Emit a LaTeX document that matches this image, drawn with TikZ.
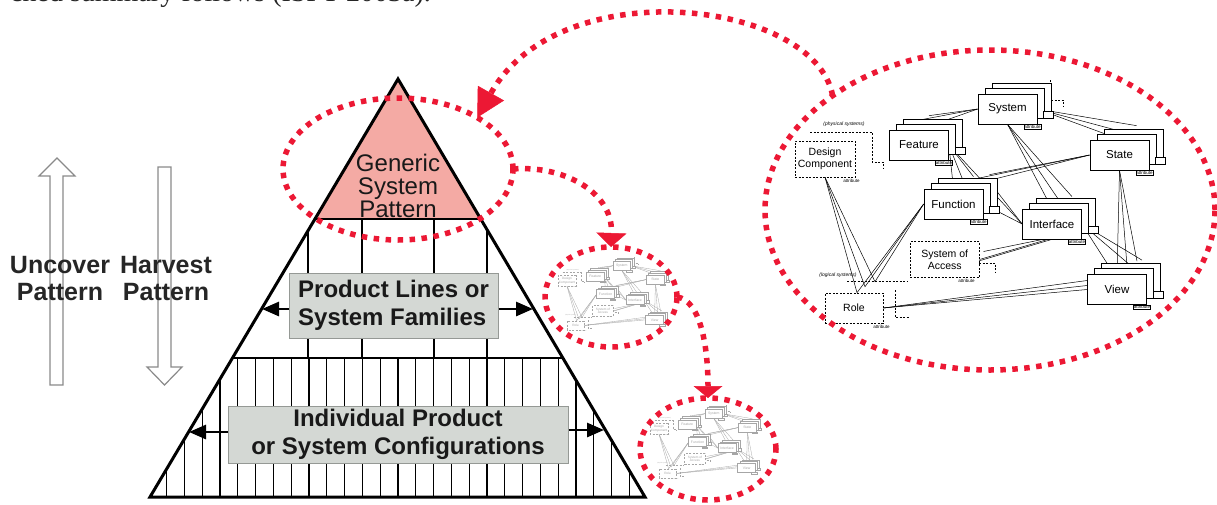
\documentclass[tikz,border=0pt]{standalone}
\usepackage{fontspec}
\setmainfont{Liberation Sans}
\newfontfamily\hdrfont{Liberation Serif}
\usetikzlibrary{arrows.meta,shapes.geometric,calc}
\pgfdeclarelayer{edges}
\pgfsetlayers{edges,main}
\definecolor{dotred}{HTML}{EC1834}
\definecolor{pinkfill}{HTML}{F4AAA4}
\definecolor{boxgray}{HTML}{D4D8D4}
\definecolor{boxedge}{HTML}{959995}
\definecolor{hollowedge}{HTML}{8A8A8A}
\newcommand\ncol{black}
\newcommand\nlw{0.5pt}
\tikzset{
  hollow/.style={draw=hollowedge, fill=white, line width=1.2pt, line join=miter},
  sidetxt/.style={font=\bfseries\fontsize{25}{27}\selectfont, text=black!85, align=center, inner sep=0pt, anchor=base},
  pyr/.style={line width=3pt, line join=miter},
  vline/.style={line width=1.3pt},
  hline/.style={line width=1.8pt},
  graybox/.style={draw=boxedge, fill=boxgray, line width=1pt, inner sep=0pt, text=black!90, font=\bfseries\fontsize{24}{28}\selectfont},
  gentxt/.style={font=\fontsize{24}{23}\selectfont, text=black!90, align=center, inner sep=0pt, anchor=base},
  blkarrow/.style={line width=2.8pt, -{Triangle[length=17pt,width=14pt]}},
  redell/.style={ellipse, draw=dotred, line width=5.5pt, dash pattern=on 5.5pt off 6.5pt, inner sep=0pt, outer sep=0pt},
  reddash/.style={draw=dotred, line width=5.5pt, dash pattern=on 5.5pt off 6.5pt},
  nbox/.style={draw=\ncol, text=\ncol, fill=white, line width=0.7pt, minimum width=59pt, minimum height=30pt, inner sep=0pt, font=\fontsize{11.5}{12}\selectfont},
  nback/.style={draw=\ncol, fill=white, line width=0.7pt},
  ndash/.style={draw=\ncol, line width=0.6pt, dash pattern=on 2pt off 1.5pt},
  dbox/.style={ndash, text=\ncol, fill=white, inner sep=0pt, align=center, font=\fontsize{10.5}{12.5}\selectfont},
  attr/.style={draw=\ncol, text=\ncol, line width=0.4pt, inner sep=0.6pt, font=\fontsize{4.5}{5}\selectfont},
  attrtxt/.style={text=\ncol, inner sep=0.6pt, font=\fontsize{4.5}{5}\selectfont},
  note/.style={text=\ncol, inner sep=0pt, font=\itshape\fontsize{5}{6}\selectfont},
  nedge/.style={draw=\ncol, line width=\nlw}
}
\newcommand\stk[4]{%
  \draw[nback] (#2-15.5,#3-26) rectangle ++(59,30);
  \draw[nback] (#2-22.5,#3-21) rectangle ++(59,30);
  \draw[nback] (#2+36,#3+2) rectangle ++(10,7);
  \node[nbox] (#1) at (#2,#3) {#4};
  \node[attr, anchor=north east] at ($(#1.south east)+(4,0)$) {attribute};
}
\newcommand\netdiag{%
  \draw[ndash] (255,0) -- (255,20) -- (268,20) -- (268,27);
  \stk{sys}{212.5}{29}{System}
  \stk{feat}{124}{65}{Feature}
  \stk{state}{324.5}{75}{State}
  \stk{func}{158.5}{124}{Function}
  \stk{intf}{257}{144}{Interface}
  \stk{view}{322}{209.5}{View}
  % dashed boxes
  \draw[ndash] (15,52) -| (77,82) -- (88,82) -- (88,88);
  \node[dbox, minimum width=60pt, minimum height=36pt] (dc) at (30,79) {Design\\Component};
  \node[note] at (49,44) {(physical systems)};
  \node[attrtxt, anchor=north east] at ($(dc.south east)+(5,1)$) {attribute};
  \draw[ndash] (177,183) -- (200,183) -- (200,192);
  \node[dbox, minimum width=69pt, minimum height=36pt] (soa) at (149.7,179.5) {System of\\Access};
  \node[attrtxt, anchor=north east] at ($(soa.south east)+(-4,1)$) {attribute};
  \draw[ndash] (52,201) -- (112,201);
  \draw[ndash] (100,210) -- (100,237) -- (115,237);
  \node[dbox, minimum width=58pt, minimum height=30pt] (role) at (59,228) {Role};
  \node[note] at (43,195) {(logical systems)};
  \node[attrtxt, anchor=north east] at ($(role.south east)+(7,1)$) {attribute};
  \begin{pgfonlayer}{edges}
    \draw[nedge] (sys.west) -- (feat.north);
    \draw[nedge] (sys.west) -- ($(feat.north)+(-8,-8)$);
    \draw[nedge] (sys.west) -- ($(feat.north)+(10,-14)$);
    \draw[nedge] (sys.east) -- ($(state.north)+(-15,-6)$);
    \draw[nedge] (sys.east) -- ($(state.north)+(-5,-10)$);
    \draw[nedge] (sys.east) -- ($(state.north)+(17,-14)$);
    \draw[nedge] (sys.south) -- (intf.north);
    \draw[nedge] (sys.south) -- ($(intf.north)+(10,-4)$);
    \draw[nedge] (sys.south) -- ($(intf.north)+(20,-12)$);
    \draw[nedge] (feat.east) -- (func.north);
    \draw[nedge] (feat.east) -- ($(func.north)+(10,-7)$);
    \draw[nedge] (feat.east) -- ($(func.north)+(20,-12)$);
    \draw[nedge] (feat.east) -- (intf.west);
    \draw[nedge] (state.west) -- ($(func.north)+(3,0)$);
    \draw[nedge] (state.west) -- ($(func.north)+(18,-9)$);
    \draw[nedge] (state.west) -- ($(func.north)+(36,-14)$);
    \draw[nedge] (state.south) -- (view.north);
    \draw[nedge] (state.south) -- ($(view.north)+(10,-8)$);
    \draw[nedge] (state.south) -- ($(view.north)+(20,-13)$);
    \draw[nedge] (func.east) -- (intf.west);
    \draw[nedge] ($(func.east)+(14,-12)$) -- (intf.west);
    \draw[nedge] (intf.east) -- ($(view.north)+(-3,0)$);
    \draw[nedge] (intf.east) -- ($(view.north)+(12,-10)$);
    \draw[nedge] (intf.east) -- ($(view.north)+(25,-14)$);
    \draw[nedge] (dc.south) -- ($(role.north)+(3,0)$) -- (func.west);
    \draw[nedge] (dc.south) -- ($(role.north)+(11,-6)$) -- (func.west);
    \draw[nedge] (dc.south) -- ($(role.north)+(21,-11)$) -- (func.west);
    \draw[nedge] ($(soa.east)+(-6,3)$) -- (intf.south);
    \draw[nedge] (soa.east) -- ($(intf.south)+(-4,0)$);
    \draw[nedge] ($(soa.east)+(4,-8)$) -- ($(intf.south)+(-9,0)$);
    \draw[nedge] (role.east) -- ($(view.west)+(0,-9)$);
    \draw[nedge] (role.east) -- ($(view.west)+(0,-4)$);
    \draw[nedge] (role.east) -- (view.west);
  \end{pgfonlayer}
}
\begin{document}
\begin{tikzpicture}[x=1pt,y=-1pt]
\useasboundingbox (0,0) rectangle (1217,504);
\clip (0,0) rectangle (1217,504);
% clipped line of body text at the top
\node[anchor=base west, inner sep=0pt, font=\hdrfont\fontsize{28}{30}\selectfont, text=black!85] (hdr) at (10,1.5) {ched summary follows (ISPT 2003a).};
% hollow arrows
\draw[hollow] (50,385) -- (50,176) -- (39,176) -- (57,158) -- (75,176) -- (63,176) -- (63,385) -- cycle;
\draw[hollow] (158,167) -- (171,167) -- (171,367) -- (182,367) -- (164.5,385) -- (147,367) -- (158,367) -- cycle;
\node[sidetxt] (unc) at (60,300) {Uncover\\Pattern};
\node[sidetxt] (harv) at (166,300) {Harvest\\Pattern};
% pyramid
\coordinate (apex) at (398,79);
\coordinate (bl) at (150,497);
\coordinate (br) at (645,497);
\fill[white] (bl) -- (apex) -- (br) -- cycle;
\begin{scope}
  \clip (bl) -- (apex) -- (br) -- cycle;
  \fill[pinkfill] (apex) -- (314.9,219) -- (481.1,219) -- cycle;
  \draw[hline] (100,219) -- (700,219);
  \draw[hline] (100,358) -- (700,358);
  \foreach \x in {308,362,434,487} \draw[vline] (\x,219) -- (\x,358);
  \foreach \j in {-13,...,13} \draw[vline] (398+17.8*\j,358) -- (398+17.8*\j,497);
\end{scope}
\draw[pyr] (bl) -- (apex) -- (br) -- cycle;
\node[gentxt] (gen) at (398,217) {Generic\\System\\Pattern};
\node[graybox, minimum width=209pt, minimum height=65pt, align=left] (plbox) at (393.5,305.5) {Product Lines or\\System Families};
\node[graybox, minimum width=340pt, minimum height=57pt, align=center] (indbox) at (398,434.5) {Individual Product\\or System Configurations};
\coordinate (plL) at (262,309);
\coordinate (plR) at (533,309);
\coordinate (inL) at (189,432);
\coordinate (inR) at (604,430);
\draw[blkarrow] (plbox.west |- plL) -- (plL);
\draw[blkarrow] (plbox.east |- plR) -- (plR);
\draw[blkarrow] (indbox.west |- inL) -- (inL);
\draw[blkarrow] (indbox.east |- inR) -- (inR);
% network diagrams
\begin{scope}[shift={(795,80)}, name prefix=B-]
  \netdiag
\end{scope}
\begin{scope}[shift={(558,257)}, scale=0.3, transform shape, name prefix=M1-]
  \renewcommand\ncol{gray!70}\renewcommand\nlw{0.3pt}
  \netdiag
\end{scope}
\begin{scope}[shift={(650,405)}, scale=0.3, transform shape, name prefix=M2-]
  \renewcommand\ncol{gray!70}\renewcommand\nlw{0.3pt}
  \netdiag
\end{scope}
% red dotted ellipses
\node[redell, minimum width=230pt, minimum height=142pt] (genE) at (398,169) {};
\node[redell, minimum width=132pt, minimum height=100pt] (smallA) at (611,297) {};
\node[redell, minimum width=136pt, minimum height=102pt] (smallB) at (708,449) {};
\node[redell, minimum width=450pt, minimum height=320pt] (bigE) at (990,210) {};
% dotted arrows
\draw[reddash, -{Triangle[length=28pt,width=30pt,line width=0.5pt]}] (bigE.144) .. controls (815,0) and (560,-30) .. (genE.33);
\draw[reddash, -{Triangle[length=14pt,width=30pt,line width=0.5pt]}] (genE.east) .. controls (560,165) and (613,190) .. (smallA.north);
\draw[reddash, -{Triangle[length=12pt,width=29pt,line width=0.5pt]}] (smallA.east) .. controls (700,300) and (708,345) .. (smallB.north);
\end{tikzpicture}
\end{document}
